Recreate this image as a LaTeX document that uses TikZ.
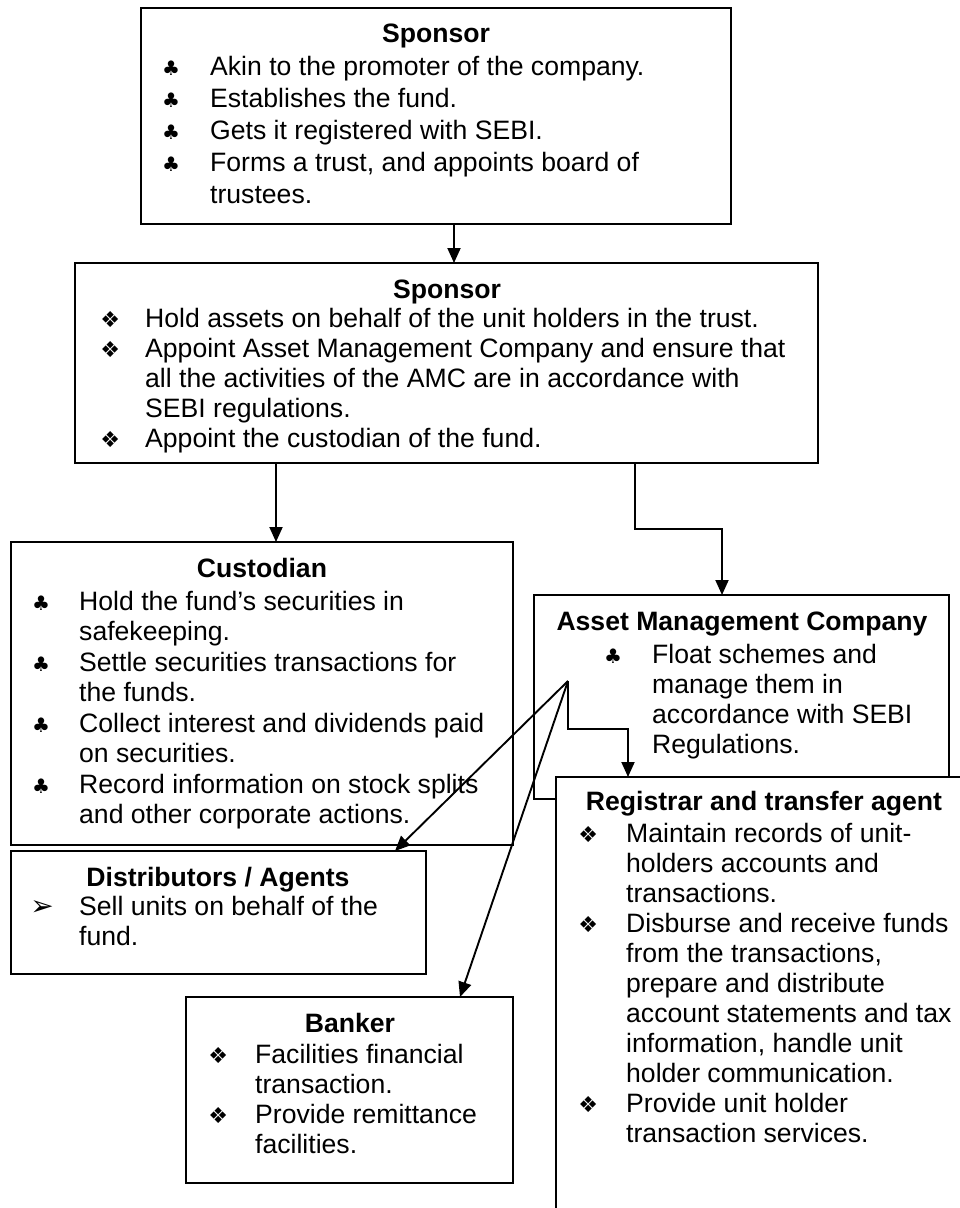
\documentclass[tikz,border=0pt]{standalone}
\usepackage{fontspec}
\setmainfont{Liberation Sans}
\newfontfamily\symfont{DejaVu Sans}
\usetikzlibrary{arrows.meta}

% bullet glyphs, hung to the left of the text column
\newcommand{\hang}[2]{\llap{\makebox[0pt][c]{#1}\hspace*{#2}}\ignorespaces}
\newcommand{\cl}[1][39pt]{\hang{\symfont\fontsize{20}{20}\selectfont ♣}{#1}}
\newcommand{\dm}[1][38pt]{\hang{\symfont\fontsize{22}{22}\selectfont ❖}{#1}}
\newcommand{\ah}[1][37pt]{\hang{\symfont\fontsize{28}{28}\selectfont ➢}{#1}}
% a bulleted block of lines with a given line pitch
\newcommand{\blist}[2]{\fontsize{26.6}{#1}\selectfont\begin{tabular}[t]{@{}l@{}}#2\end{tabular}}

\begin{document}
\begin{tikzpicture}[x=1pt,y=-1pt,
  box/.style={draw, line width=1.9pt, fill=white, anchor=north west,
              inner sep=0pt, outer sep=0pt},
  ttl/.style={anchor=base, inner sep=0pt, font=\bfseries\fontsize{26.6}{30}\selectfont},
  txt/.style={anchor=base west, inner sep=0pt},
  arr/.style={line width=1.9pt, -{Triangle[length=15pt,width=13pt]}}]

\useasboundingbox (0,0) rectangle (960,1208);
\begin{scope}
\clip (0,0) rectangle (960,1208);

% Sponsor (top)
\node[box, minimum width=590pt, minimum height=216pt] (sp1) at (141,8) {};
\node[ttl] (sp1t) at (436,42) {Sponsor};
\node[txt] (sp1l) at (210,75) {\blist{32}{%
  \cl Akin to the promoter of the company.\\
  \cl Establishes the fund.\\
  \cl Gets it registered with SEBI.\\
  \cl Forms a trust, and appoints board of\\
  trustees.}};

% Sponsor (trustees)
\node[box, minimum width=743pt, minimum height=200pt] (sp2) at (75,263) {};
\node[ttl] (sp2t) at (447,298) {Sponsor};
\node[txt] (sp2l) at (145,327) {\blist{30}{%
  \dm[35pt] Hold assets on behalf of the unit holders in the trust.\\
  \dm[35pt] Appoint Asset Management Company and ensure that\\
  all the activities of the AMC are in accordance with\\
  SEBI regulations.\\
  \dm[35pt] Appoint the custodian of the fund.}};

% Custodian
\node[box, minimum width=502pt, minimum height=303pt] (cust) at (11,542) {};
\node[ttl] (custt) at (262,577) {Custodian};
\node[txt] (custl) at (79,610) {\blist{30.5}{%
  \cl[38pt] Hold the fund’s securities in\\
  safekeeping.\\
  \cl[38pt] Settle securities transactions for\\
  the funds.\\
  \cl[38pt] Collect interest and dividends paid\\
  on securities.\\
  \cl[38pt] Record information on stock splits\\
  and other corporate actions.}};

% Distributors / Agents
\node[box, minimum width=415pt, minimum height=123pt] (dist) at (11,851) {};
\node[ttl] (distt) at (218,886) {Distributors / Agents};
\node[txt] (distl) at (79,915) {\blist{30}{%
  \ah Sell units on behalf of the\\
  fund.}};

% Banker
\node[box, minimum width=327pt, minimum height=186pt] (bank) at (186,997) {};
\node[ttl] (bankt) at (350,1032) {Banker};
\node[txt] (bankl) at (255,1063) {\blist{30}{%
  \dm[37pt] Facilities financial\\
  transaction.\\
  \dm[37pt] Provide remittance\\
  facilities.}};

% Asset Management Company
\node[box, minimum width=415pt, minimum height=204pt] (amc) at (534,595) {};
\node[ttl] (amct) at (742,630) {Asset Management Company};
\node[txt] (amcl) at (652,663) {\blist{30}{%
  \cl Float schemes and\\
  manage them in\\
  accordance with SEBI\\
  Regulations.}};

% Registrar and transfer agent
\node[box, minimum width=416pt, minimum height=460pt] (reg) at (556,777) {};
\node[ttl] (regt) at (764,810) {Registrar and transfer agent};
\node[txt] (regl) at (626,842) {\blist{30}{%
  \dm Maintain records of unit-\\
  holders accounts and\\
  transactions.\\
  \dm Disburse and receive funds\\
  from the transactions,\\
  prepare and distribute\\
  account statements and tax\\
  information, handle unit\\
  holder communication.\\
  \dm Provide unit holder\\
  transaction services.}};

% connectors
\coordinate (hub) at (568,681);
\draw[arr] (454,0 |- sp1.south) -- (454,0 |- sp2.north);
\draw[arr] (276,0 |- sp2.south) -- (276,0 |- cust.north);
\draw[arr] (635,0 |- sp2.south) -- (635,529) -- (722,529) -- (722,0 |- amc.north);
\draw[arr] (hub) -- (568,729) -- (628,729) -- (628,0 |- reg.north);
\draw[arr] (hub) -- (395,0 |- dist.north);
\draw[arr] (hub) -- (460,0 |- bank.north);
\end{scope}
\end{tikzpicture}
\end{document}
